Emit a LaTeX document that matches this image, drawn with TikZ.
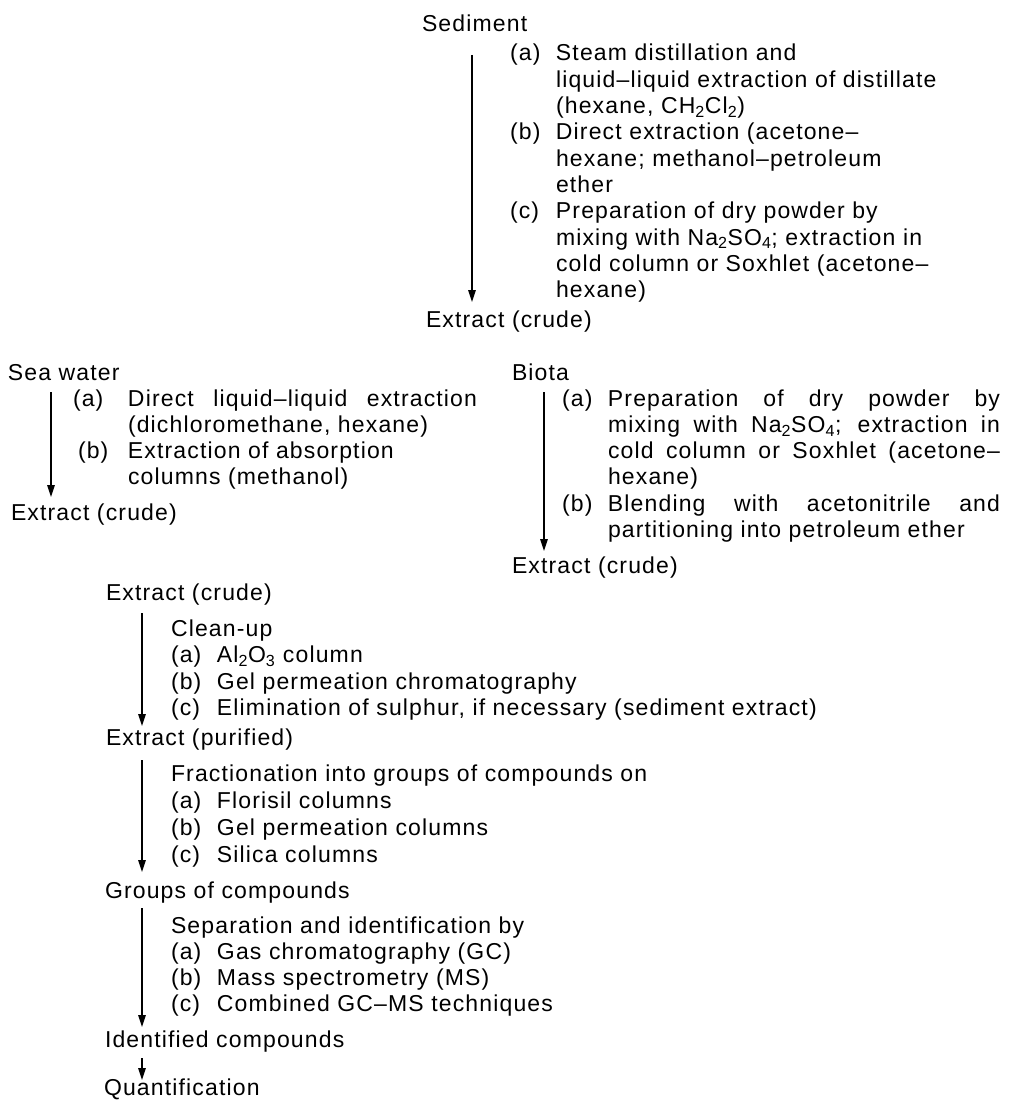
\documentclass[tikz,border=0pt]{standalone}
\usepackage{fontspec}
\setmainfont{Liberation Sans}[LetterSpace=5]
\usetikzlibrary{arrows.meta}
\newcommand\lab[2][46pt]{\makebox[#1][l]{#2}}
\newcommand\jst[2]{\makebox[#1][s]{#2}}
\begin{document}
\begin{tikzpicture}[x=1pt,y=-1pt,
  every node/.style={inner sep=0pt,outer sep=0pt},
  txt/.style={anchor=base west,font=\fontsize{23}{25.5}\selectfont},
  lead/.style={font=\fontsize{23}{#1}\selectfont},
  flow/.style={line width=1.5pt,-{Triangle[length=12pt,width=7.5pt]}}]
\useasboundingbox (0,0) rectangle (1010,1102);

% ---------- Sediment ----------
\node[txt] (sed) at (422,32) {Sediment};
\node[txt,lead=26.3] (sedsteps) at (510,61) {\begin{tabular}[t]{@{}l@{}l@{}}
\lab{(a)} & Steam distillation and\\
 & liquid--liquid extraction of distillate\\
 & (hexane, CH\textsubscript{2}Cl\textsubscript{2})\\
\lab{(b)} & Direct extraction (acetone--\\
 & hexane; methanol--petroleum\\
 & ether\\
\lab{(c)} & Preparation of dry powder by\\
 & mixing with Na\textsubscript{2}SO\textsubscript{4}; extraction in\\
 & cold column or Soxhlet (acetone--\\
 & hexane)
\end{tabular}};
\node[txt] (sedext) at (426,327) {Extract (crude)};
\coordinate (sedA) at (472,55);
\coordinate (sedB) at (472,302);
\draw[flow] (sedA) -- (sedB);

% ---------- Sea water ----------
\node[txt] (sea) at (8,380) {Sea water};
\node[txt,lead=26] (seasteps) at (73,406) {\begin{tabular}[t]{@{}l@{}l@{}}
\lab[55pt]{(a)} & \jst{349pt}{Direct liquid--liquid extraction}\\
 & (dichloromethane, hexane)\\
\lab[55pt]{\hspace{5pt}(b)} & Extraction of absorption\\
 & columns (methanol)
\end{tabular}};
\node[txt] (seaext) at (11,520) {Extract (crude)};
\coordinate (seaA) at (51,392);
\coordinate (seaB) at (51,497);
\draw[flow] (seaA) -- (seaB);

% ---------- Biota ----------
\node[txt] (bio) at (512,380) {Biota};
\node[txt,lead=26.3] (biosteps) at (562,406) {\begin{tabular}[t]{@{}l@{}l@{}}
\lab{(a)} & \jst{392pt}{Preparation of dry powder by}\\
 & \jst{392pt}{mixing with Na\textsubscript{2}SO\textsubscript{4}; extraction in}\\
 & \jst{392pt}{cold column or Soxhlet (acetone--}\\
 & hexane)\\
\lab{(b)} & \jst{392pt}{Blending with acetonitrile and}\\
 & partitioning into petroleum ether
\end{tabular}};
\node[txt] (bioext) at (512,573) {Extract (crude)};
\coordinate (bioA) at (544,392);
\coordinate (bioB) at (544,551);
\draw[flow] (bioA) -- (bioB);

% ---------- Common chain ----------
\node[txt] (crude) at (106,600) {Extract (crude)};
\node[txt,lead=26.5] (cleanup) at (171,636) {\begin{tabular}[t]{@{}l@{}l@{}}
\multicolumn{2}{@{}l@{}}{Clean-up}\\
\lab{(a)} & Al\textsubscript{2}O\textsubscript{3} column\\
\lab{(b)} & Gel permeation chromatography\\
\lab{(c)} & Elimination of sulphur, if necessary (sediment extract)
\end{tabular}};
\node[txt] (purified) at (106,745) {Extract (purified)};
\node[txt,lead=27] (fract) at (171,781) {\begin{tabular}[t]{@{}l@{}l@{}}
\multicolumn{2}{@{}l@{}}{Fractionation into groups of compounds on}\\
\lab{(a)} & Florisil columns\\
\lab{(b)} & Gel permeation columns\\
\lab{(c)} & Silica columns
\end{tabular}};
\node[txt] (groups) at (105,898) {Groups of compounds};
\node[txt,lead=26] (separ) at (171,933) {\begin{tabular}[t]{@{}l@{}l@{}}
\multicolumn{2}{@{}l@{}}{Separation and identification by}\\
\lab{(a)} & Gas chromatography (GC)\\
\lab{(b)} & Mass spectrometry (MS)\\
\lab{(c)} & Combined GC--MS techniques
\end{tabular}};
\node[txt] (ident) at (105,1047) {Identified compounds};
\node[txt] (quant) at (104,1095) {Quantification};

\coordinate (c1A) at (142,613);  \coordinate (c1B) at (142,726);
\coordinate (c2A) at (142,760);  \coordinate (c2B) at (142,872);
\coordinate (c3A) at (142,908);  \coordinate (c3B) at (142,1027);
\coordinate (c4A) at (142,1058); \coordinate (c4B) at (142,1080);
\draw[flow] (c1A) -- (c1B);
\draw[flow] (c2A) -- (c2B);
\draw[flow] (c3A) -- (c3B);
\draw[flow] (c4A) -- (c4B);
\end{tikzpicture}
\end{document}
